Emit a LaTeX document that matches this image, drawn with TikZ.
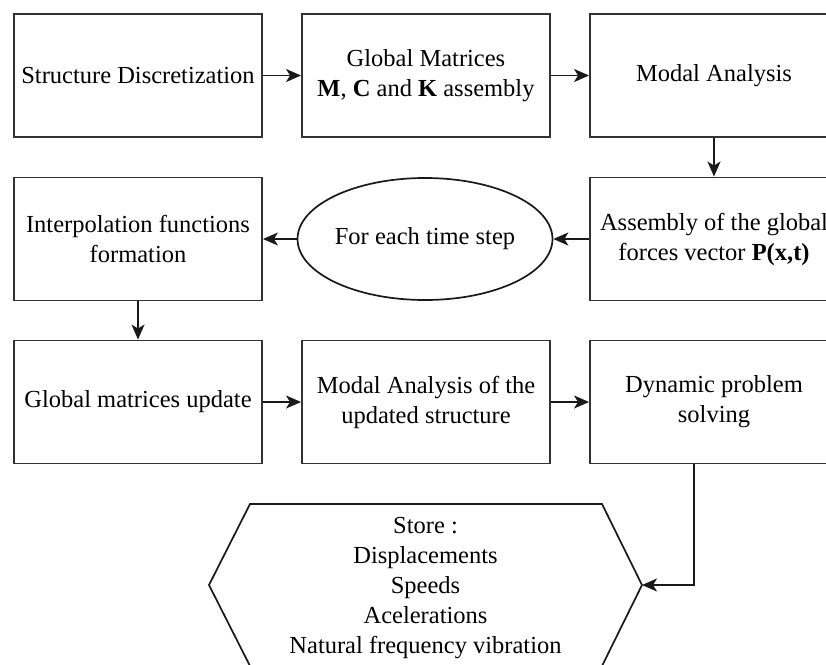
\documentclass[tikz,border=0pt]{standalone}
\usepackage{fontspec}
\setmainfont{Liberation Serif}
\usetikzlibrary{arrows.meta,shapes.geometric}
\newcommand\fsz{\fontsize{24.5}{30}\selectfont}
\begin{document}
\begin{tikzpicture}[x=1pt,y=-1pt,
  box/.style={draw=black!80, line width=1.9pt, minimum width=248pt, minimum height=123pt,
    align=center, inner sep=0pt, font=\fsz, text=black},
  ell/.style={ellipse, draw=black!90, line width=1.7pt, minimum width=244pt, minimum height=122pt,
    align=center, inner sep=0pt, font=\fsz, text=black},
  arr/.style={draw=black!90, line width=1.7pt, -{Stealth[length=15pt,width=13pt,inset=4pt]}},
  hexline/.style={draw=black!90, line width=1.7pt, line join=miter}
]
\path[use as bounding box, clip] (0,0) rectangle (826,664);

\node[box] (sd) at (138,75.5) {Structure Discretization};
\node[box] (gm) at (426,75.5) {Global Matrices\\\textbf{M}, \textbf{C} and \textbf{K} assembly};
\node[box] (ma) at (714,75.5) {Modal Analysis};

\node[box] (ag) at (714,239) {Assembly of the global\\forces vector \textbf{P(x,t)}};
\node[ell] (fe) at (425,239) {For each time step};
\node[box] (if) at (138,239) {Interpolation functions\\formation};

\node[box] (gu) at (138,402) {Global matrices update};
\node[box] (mu) at (426,402) {Modal Analysis of the\\updated structure};
\node[box] (dp) at (714,402) {Dynamic problem\\solving};

\draw[hexline] (250,504) -- (602,504) -- (642,585) -- (602,666) -- (250,666) -- (209,585) -- cycle;
\coordinate (hexR) at (642,585);
\node[font=\fsz, align=center, inner sep=0pt] (store) at (425.5,588)
  {Store :\\Displacements\\Speeds\\Acelerations\\Natural frequency vibration};

\draw[arr] (sd) -- (gm);
\draw[arr] (gm) -- (ma);
\draw[arr] (ma) -- (ag);
\draw[arr] (ag) -- (fe);
\draw[arr] (fe) -- (if);
\draw[arr] (if) -- (gu);
\draw[arr] (gu) -- (mu);
\draw[arr] (mu) -- (dp);
\draw[arr] ([xshift=-20pt]dp.south) |- (hexR);
\end{tikzpicture}
\end{document}
